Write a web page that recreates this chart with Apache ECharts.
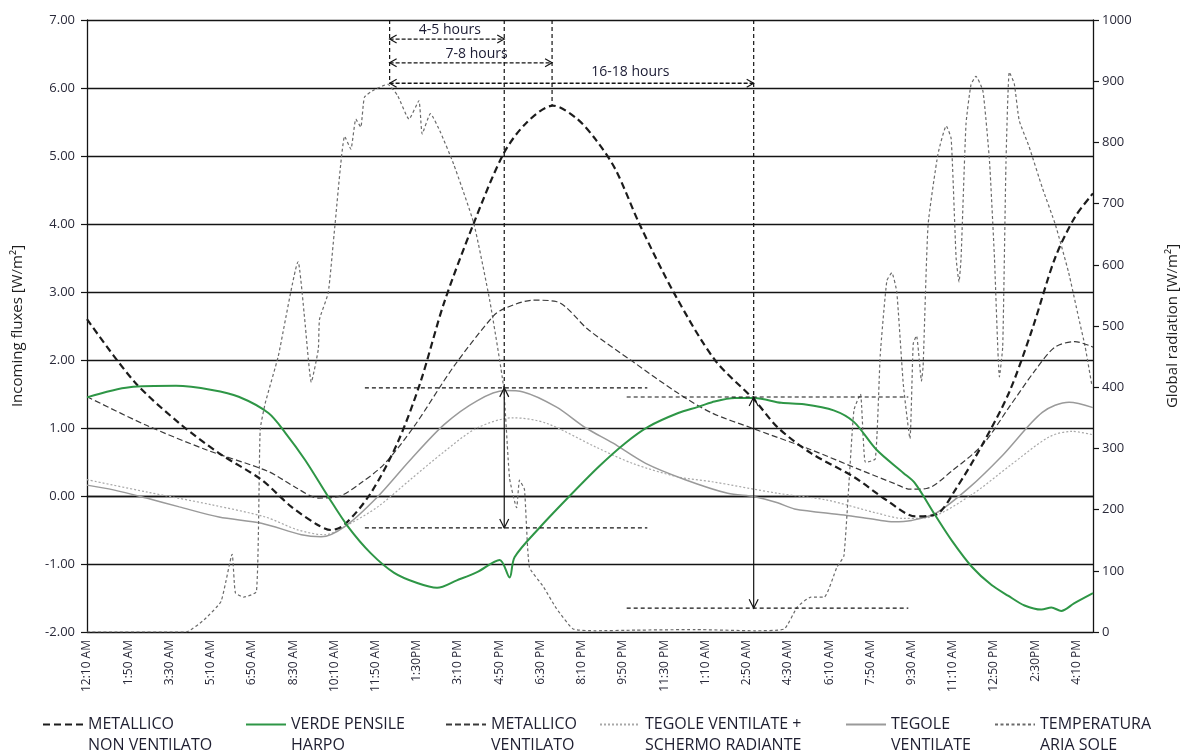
<!DOCTYPE html>
<html><head><meta charset="utf-8">
<script src="https://cdn.jsdelivr.net/npm/echarts@6/dist/echarts.min.js"></script>
<style>html,body{margin:0;padding:0;background:#fff;overflow:hidden;width:1188px;height:754px}#c{width:1188px;height:754px}</style>
</head><body><div id="c"></div>
<script>
// x values: minutes elapsed from 12:10 AM (day 1)
const tickTimes = [0,100,200,300,400,500,600,700,800,900,1000,1100,1200,1300,1400,1500,1600,1700,1800,1900,2000,2100,2200,2300,2400];
const tickLabels = ['12:10 AM','1:50 AM','3:30 AM','5:10 AM','6:50 AM','8:30 AM','10:10 AM','11:50 AM','1:30PM','3:10 PM','4:50 PM','6:30 PM','8:10 PM','9:50 PM','11:30 PM','1:10 AM','2:50 AM','4:30 AM','6:10 AM','7:50 AM','9:30 AM','11:10 AM','12:50 PM','2:30PM','4:10 PM'];

const nonVentilato = [[0,2.60],[115,1.68],[224,1.07],[320,0.63],[423,0.24],[496,-0.16],[561,-0.43],[592,-0.50],[625,-0.42],[688,0.04],[753,0.78],[808,1.66],[866,2.84],[938,4.01],[1010,5.03],[1066,5.49],[1130,5.74],[1186,5.56],[1234,5.24],[1282,4.80],[1340,4.00],[1427,2.95],[1523,2.00],[1619,1.41],[1675,1.01],[1756,0.63],[1860,0.28],[1939,-0.06],[2010,-0.30],[2060,-0.27],[2108,0.11],[2173,0.77],[2237,1.53],[2293,2.46],[2348,3.50],[2396,4.10],[2440,4.45]];

const verdePensile = [[0,1.45],[103,1.60],[216,1.62],[303,1.56],[368,1.46],[440,1.22],[481,0.93],[529,0.53],[585,-0.01],[633,-0.45],[688,-0.84],[745,-1.13],[801,-1.28],[849,-1.35],[897,-1.24],[946,-1.12],[1001,-0.94],[1025,-1.20],[1037,-0.90],[1097,-0.47],[1169,-0.01],[1241,0.43],[1306,0.78],[1362,1.02],[1434,1.22],[1482,1.31],[1516,1.38],[1571,1.44],[1619,1.44],[1684,1.37],[1739,1.35],[1811,1.26],[1860,1.09],[1915,0.68],[1980,0.34],[2008,0.19],[2057,-0.28],[2098,-0.66],[2146,-1.04],[2194,-1.31],[2235,-1.47],[2274,-1.61],[2315,-1.67],[2339,-1.64],[2363,-1.69],[2394,-1.58],[2440,-1.43]];

const ventilato = [[0,1.46],[144,1.04],[289,0.68],[440,0.36],[505,0.13],[561,-0.03],[609,-0.01],[664,0.19],[721,0.47],[793,1.02],[889,1.90],[986,2.65],[1013,2.76],[1082,2.88],[1138,2.86],[1217,2.44],[1323,1.98],[1434,1.51],[1516,1.22],[1612,1.00],[1756,0.68],[1877,0.38],[1960,0.18],[1997,0.10],[2036,0.11],[2100,0.38],[2173,0.76],[2237,1.31],[2300,1.85],[2348,2.19],[2396,2.27],[2440,2.19]];

const tegoleSchermo = [[0,0.24],[144,0.06],[303,-0.13],[433,-0.31],[512,-0.50],[577,-0.57],[625,-0.45],[705,-0.16],[784,0.24],[866,0.65],[946,1.00],[1034,1.15],[1114,1.07],[1234,0.72],[1323,0.48],[1434,0.28],[1516,0.21],[1675,0.04],[1795,-0.06],[1915,-0.25],[1980,-0.33],[2036,-0.32],[2141,0.00],[2237,0.44],[2334,0.87],[2389,0.95],[2440,0.90]];

const tegole = [[0,0.16],[64,0.09],[144,-0.03],[224,-0.16],[320,-0.31],[423,-0.40],[520,-0.57],[568,-0.60],[625,-0.45],[705,-0.01],[784,0.53],[866,1.05],[946,1.40],[1013,1.55],[1058,1.53],[1138,1.31],[1210,1.00],[1275,0.78],[1355,0.48],[1451,0.24],[1554,0.04],[1619,-0.01],[1675,-0.10],[1716,-0.19],[1836,-0.28],[1915,-0.35],[1956,-0.38],[2000,-0.36],[2060,-0.25],[2141,0.13],[2221,0.60],[2317,1.23],[2382,1.38],[2440,1.30]];

const radiazione = [[0,0],[240,0],[284,20],[325,50],[352,127],[360,64],[380,57],[411,66],[420,330],[432,373],[464,451],[512,605],[528,511],[544,408],[561,462],[564,511],[585,554],[601,662],[625,810],[640,789],[652,838],[664,825],[673,874],[697,886],[729,895],[753,877],[781,838],[805,868],[813,814],[833,847],[857,817],[889,765],[938,668],[977,541],[1010,402],[1025,251],[1042,203],[1049,248],[1061,233],[1073,106],[1106,75],[1138,39],[1179,5],[1234,2],[1330,3],[1475,4],[1619,2],[1691,5],[1723,41],[1756,57],[1788,57],[1819,106],[1836,125],[1860,362],[1876,389],[1888,277],[1912,283],[1924,453],[1940,574],[1952,587],[1964,556],[1980,404],[1996,316],[2004,471],[2012,484],[2024,410],[2028,435],[2040,665],[2064,781],[2084,827],[2096,806],[2108,611],[2115,572],[2120,611],[2132,830],[2144,894],[2156,908],[2173,884],[2189,769],[2201,611],[2213,417],[2221,466],[2229,769],[2237,915],[2249,896],[2261,836],[2285,793],[2317,726],[2349,665],[2381,587],[2405,514],[2421,466],[2437,404]];

// annotations (data units: minutes, flux)
const guideV = [[734,7,6.06],[1012,7,1.59],[1128,7,5.74],[1617,7,1.456]];
const guideH = [[674,1359,1.59],[674,1359,-0.47],[1309,1992,1.456],[1309,1992,-1.65]];
const spans = [[734,1012,6.72],[734,1128,6.37],[734,1617,6.07]];
const spanTexts = ['4-5 hours','7-8 hours','16-18 hours'];
const spanTextPos = [[880,6.86],[945,6.50],[1318,6.23]];
const ranges = [[1012,1.59,-0.47],[1617,1.456,-1.65]];

const names = ['METALLICO\nNON VENTILATO','VERDE PENSILE\nHARPO','METALLICO\nVENTILATO','TEGOLE VENTILATE +\nSCHERMO RADIANTE','TEGOLE\nVENTILATE','TEMPERATURA\nARIA SOLE'];
const legendLeft = [37,240,440,594,840,989];

const FONT = "'Open Sans', sans-serif";
const LFONT = "'Open Sans', sans-serif";
const INK = '#141414';

function chevron(tip, from, len, half) {
  const dx = tip[0]-from[0], dy = tip[1]-from[1];
  const d = Math.sqrt(dx*dx+dy*dy) || 1;
  const ux = dx/d, uy = dy/d;
  const bx = tip[0]-ux*len, by = tip[1]-uy*len;
  const nx = -uy, ny = ux;
  return [[bx+nx*half, by+ny*half], tip, [bx-nx*half, by-ny*half]];
}

function renderAnnotations(params, api) {
  const kids = [];
  const dashed = {stroke: INK, lineWidth: 1.2, lineDash: [4,3], fill: null};
  const solid = {stroke: INK, lineWidth: 1.2, fill: null};
  guideV.forEach(g => {
    const a = api.coord([g[0], g[1]]), b = api.coord([g[0], g[2]]);
    kids.push({type:'line', shape:{x1:a[0],y1:a[1],x2:b[0],y2:b[1]}, style: dashed});
  });
  guideH.forEach(g => {
    const a = api.coord([g[0], g[2]]), b = api.coord([g[1], g[2]]);
    kids.push({type:'line', shape:{x1:a[0],y1:a[1],x2:b[0],y2:b[1]}, style: dashed});
  });
  spans.forEach((s, i) => {
    const a = api.coord([s[0], s[2]]), b = api.coord([s[1], s[2]]);
    kids.push({type:'line', shape:{x1:a[0],y1:a[1],x2:b[0],y2:b[1]}, style: {stroke: INK, lineWidth: 1.3, lineDash:[4,2], fill:null}});
    kids.push({type:'polyline', shape:{points: chevron(a, b, 7, 4)}, style: solid});
    kids.push({type:'polyline', shape:{points: chevron(b, a, 7, 4)}, style: solid});
    const p = api.coord(spanTextPos[i]);
    kids.push({type:'text', style:{text: spanTexts[i], x: p[0], y: p[1], align:'center', verticalAlign:'middle', font: "14px 'Open Sans', sans-serif", fill: '#1b1b33'}});
  });
  ranges.forEach(r => {
    const a = api.coord([r[0], r[1]]), b = api.coord([r[0], r[2]]);
    kids.push({type:'line', shape:{x1:a[0],y1:a[1],x2:b[0],y2:b[1]}, style: solid});
    kids.push({type:'polyline', shape:{points: chevron(a, b, 9, 4.5)}, style: solid});
    kids.push({type:'polyline', shape:{points: chevron(b, a, 9, 4.5)}, style: solid});
  });
  return {type:'group', children: kids};
}

const chart = echarts.init(document.getElementById('c'), null, {width: 1188, height: 754});
const lineBase = {type:'line', symbol:'none', showSymbol:false, smooth:0.3, animation:false};

chart.setOption({
  animation: false,
  backgroundColor: '#fff',
  grid: {left: 87, top: 20, width: 1014, height: 612, containLabel: false},
  legend: names.map((n, i) => ({
    data: [n], left: legendLeft[i], top: 688, itemWidth: 40, itemHeight: 12, selectedMode: false,
    itemStyle: {opacity: 0, color: 'rgba(0,0,0,0)', borderWidth: 0},
    formatter: nm => '\u00a0\n' + nm,
    textStyle: {fontFamily: LFONT, fontSize: 16, color: '#1e1e30', lineHeight: 21}
  })),
  xAxis: {
    type: 'value', min: 0, max: 2440,
    axisLine: {show: true, lineStyle: {color: INK, width: 1.3}},
    axisTick: {show: false},
    splitLine: {show: false},
    axisLabel: {
      customValues: tickTimes,
      formatter: v => { const k = tickTimes.indexOf(v); return k >= 0 ? tickLabels[k] : ''; },
      rotate: 90, margin: 8, fontSize: 12, color: '#2a2a3a', fontFamily: FONT
    }
  },
  yAxis: [{
    type: 'value', min: -2, max: 7, interval: 1, position: 'left',
    name: 'Incoming fluxes [W/m²]', nameLocation: 'middle', nameGap: 62, nameRotate: 90,
    nameTextStyle: {fontSize: 15, color: '#1e1e1e', fontFamily: FONT},
    axisLine: {show: true, lineStyle: {color: INK, width: 1.3}},
    axisTick: {show: true, length: 6, lineStyle: {color: INK, width: 1.2}},
    axisLabel: {formatter: v => v.toFixed(2), margin: 12, fontSize: 13, color: '#2a2a3a', fontFamily: FONT},
    splitLine: {show: true, lineStyle: {color: INK, width: 1.3}}
  }, {
    type: 'value', min: 0, max: 1000, interval: 100, position: 'right',
    name: 'Global radiation [W/m²]', nameLocation: 'middle', nameGap: 72, nameRotate: 90,
    nameTextStyle: {fontSize: 15, color: '#1e1e1e', fontFamily: FONT},
    axisLine: {show: true, lineStyle: {color: INK, width: 1.3}},
    axisTick: {show: true, length: 6, lineStyle: {color: INK, width: 1.2}},
    axisLabel: {formatter: v => String(v), margin: 9, fontSize: 13, color: '#2a2a3a', fontFamily: FONT},
    splitLine: {show: false}
  }],
  series: [
    Object.assign({}, lineBase, {name: names[0], data: nonVentilato, z: 5, itemStyle: {color: '#1c1c1c'}, lineStyle: {color: '#1c1c1c', width: 2.2, type: [7,4]}}),
    Object.assign({}, lineBase, {name: names[1], data: verdePensile, z: 6, itemStyle: {color: '#2e9646'}, lineStyle: {color: '#2e9646', width: 2}}),
    Object.assign({}, lineBase, {name: names[2], data: ventilato, z: 4, itemStyle: {color: '#3a3a3a'}, lineStyle: {color: '#3a3a3a', width: 1.2, type: [6,3]}}),
    Object.assign({}, lineBase, {name: names[3], data: tegoleSchermo, z: 3, itemStyle: {color: '#a8a8a8'}, lineStyle: {color: '#a8a8a8', width: 1.2, type: [2,2]}}),
    Object.assign({}, lineBase, {name: names[4], data: tegole, z: 3, itemStyle: {color: '#9a9a9a'}, lineStyle: {color: '#9a9a9a', width: 1.5}}),
    Object.assign({}, lineBase, {name: names[5], data: radiazione, yAxisIndex: 1, smooth: 0.15, z: 3, itemStyle: {color: '#6a6a6a'}, lineStyle: {color: '#6a6a6a', width: 1.2, type: [3,2.5]}}),
    {type: 'custom', name: 'annotations', coordinateSystem: 'cartesian2d', xAxisIndex: 0, yAxisIndex: 0,
     data: [[0, 0]], renderItem: renderAnnotations, z: 10, silent: true, clip: false}
  ]
});
</script></body></html>
